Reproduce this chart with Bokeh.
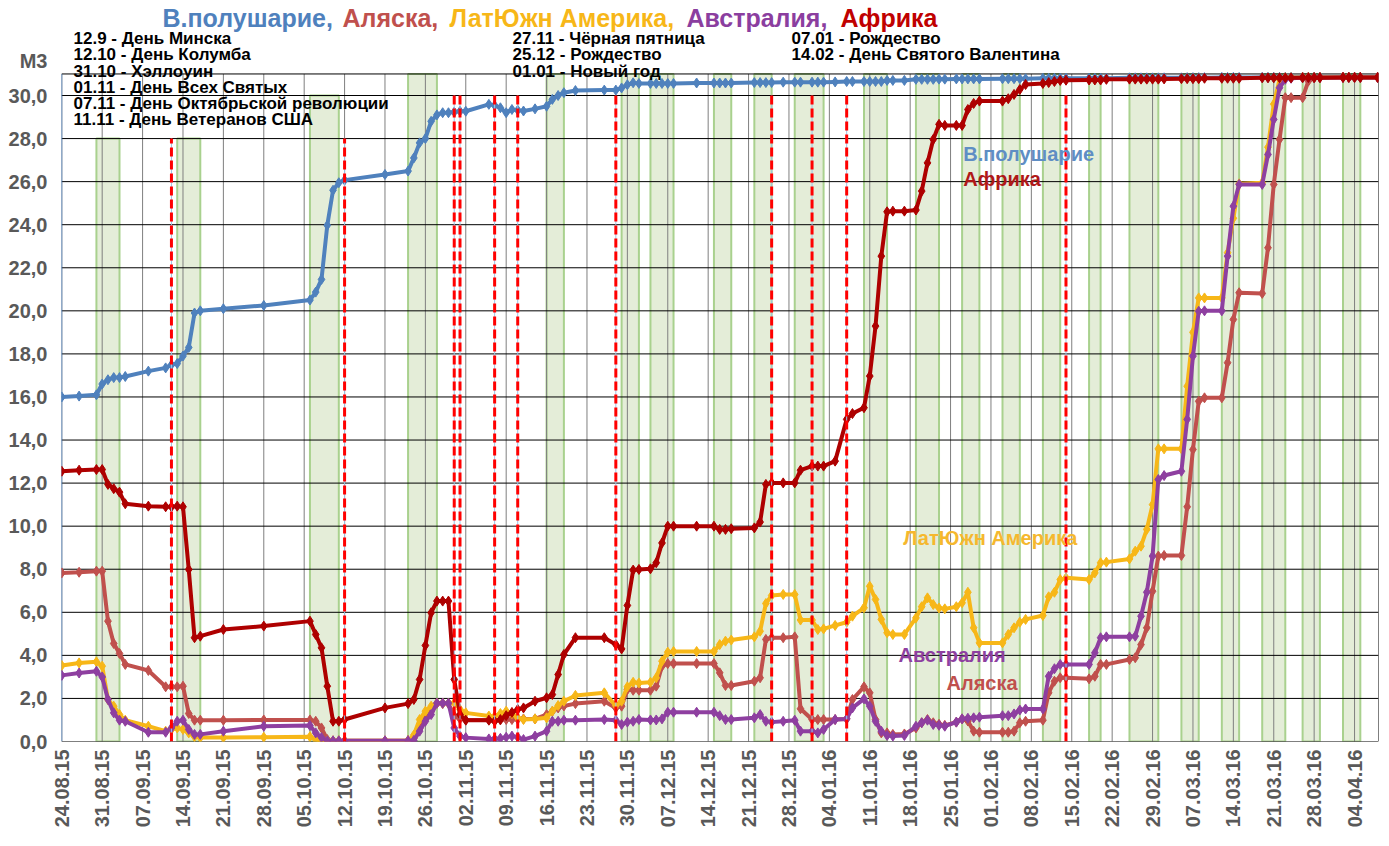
import pandas as pd
from bokeh.plotting import figure
from bokeh.models import FixedTicker, DatetimeTickFormatter, Label, Range1d, ColumnDataSource
from bokeh.embed import file_html
from bokeh.resources import INLINE

# ---------------- data ----------------
START = "24.08.15"
END = "08.04.16"

# observation day = days since START
obs_day = [0, 3, 6, 7, 8, 9, 10, 11, 15, 18,
           19, 20, 21, 22, 23, 24, 28, 35, 43, 44,
           45, 46, 47, 48, 49, 56, 60, 61, 62, 63,
           64, 65, 66, 67, 68, 69, 70, 74, 75, 76,
           77, 78, 79, 80, 82, 84, 85, 86, 87, 89,
           94, 96, 97, 98, 99, 100, 102, 103, 104, 105,
           106, 110, 113, 114, 115, 116, 120, 121, 122, 123,
           125, 127, 128, 130, 131, 132, 134, 136, 137, 139,
           140, 141, 142, 143, 144, 146, 148, 149, 150, 151,
           152, 153, 155, 156, 157, 158, 159, 163, 164, 165,
           166, 167, 170, 171, 172, 173, 174, 178, 179, 180,
           181, 185, 186, 187, 188, 189, 190, 191, 194, 195,
           196, 197, 198, 201, 202, 203, 204, 208, 209, 210,
           211, 212, 213, 215, 216, 217, 218, 222, 223, 224,
           225, 228]

hemisphere = [16.0, 16.04, 16.1, 16.6, 16.8, 16.9, 16.9, 16.95, 17.2, 17.35,
              17.5, 17.55, 17.9, 18.3, 19.9, 20.0, 20.1, 20.25, 20.5, 20.87,
              21.46, 23.97, 25.6, 25.95, 26.07, 26.33, 26.49, 27.1, 27.8, 28.0,
              28.8, 29.1, 29.2, 29.2, 29.23, 29.27, 29.27, 29.59, 29.54, 29.43,
              29.2, 29.35, 29.32, 29.28, 29.38, 29.5, 29.82, 30.0, 30.13, 30.23,
              30.25, 30.25, 30.35, 30.5, 30.59, 30.56, 30.56, 30.56, 30.56, 30.56,
              30.56, 30.58, 30.58, 30.58, 30.58, 30.58, 30.6, 30.6, 30.6, 30.6,
              30.62, 30.62, 30.62, 30.62, 30.62, 30.62, 30.63, 30.65, 30.65, 30.65,
              30.65, 30.65, 30.65, 30.7, 30.7, 30.7, 30.75, 30.75, 30.75, 30.75,
              30.76, 30.76, 30.77, 30.77, 30.77, 30.77, 30.77, 30.78, 30.78, 30.78,
              30.78, 30.78, 30.8, 30.8, 30.8, 30.8, 30.8, 30.8, 30.8, 30.8,
              30.8, 30.82, 30.82, 30.82, 30.82, 30.82, 30.82, 30.82, 30.82, 30.83,
              30.83, 30.83, 30.83, 30.84, 30.84, 30.84, 30.84, 30.84, 30.84, 30.84,
              30.84, 30.84, 30.84, 30.85, 30.85, 30.85, 30.85, 30.85, 30.85, 30.85,
              30.85, 30.85]

alaska = [7.83, 7.86, 7.91, 7.91, 5.59, 4.55, 4.09, 3.58, 3.3, 2.54,
          2.54, 2.54, 2.57, 1.3, 0.99, 0.99, 0.99, 1.0, 1.0, 0.94,
          0.63, 0.09, 0.03, 0.03, 0.03, 0.03, 0.05, 0.15, 0.6, 1.05,
          1.4, 1.78, 1.76, 1.76, 1.2, 1.05, 1.0, 1.0, 1.0, 1.0,
          1.02, 1.02, 1.03, 1.05, 1.05, 1.25, 1.4, 1.56, 1.65, 1.76,
          1.87, 1.56, 1.64, 2.41, 2.38, 2.38, 2.38, 2.57, 3.5, 3.62,
          3.62, 3.62, 3.62, 3.19, 2.6, 2.6, 2.8, 2.96, 4.74, 4.82,
          4.82, 4.86, 1.52, 1.02, 1.02, 1.02, 1.02, 1.05, 1.95, 2.54,
          2.26, 1.02, 0.4, 0.4, 0.33, 0.35, 0.63, 0.87, 1.02, 0.87,
          0.8, 0.75, 0.9, 1.05, 0.95, 0.48, 0.43, 0.43, 0.43, 0.48,
          0.87, 0.94, 0.99, 2.26, 2.8, 2.96, 2.96, 2.91, 3.03, 3.58,
          3.58, 3.81, 3.89, 4.5, 5.28, 6.98, 8.61, 8.64, 8.64, 10.9,
          13.56, 15.8, 15.96, 15.96, 17.59, 19.6, 20.84, 20.81, 22.93, 25.87,
          27.96, 29.9, 29.9, 29.9, 30.67, 30.82, 30.83, 30.84, 30.84, 30.84,
          30.84, 30.84]

latam = [3.53, 3.65, 3.7, 3.5, 1.95, 1.64, 1.25, 0.99, 0.71, 0.48,
         0.56, 0.63, 0.56, 0.4, 0.22, 0.18, 0.18, 0.2, 0.22, 0.09,
         0.03, 0.03, 0.03, 0.03, 0.03, 0.03, 0.03, 0.3, 1.02, 1.41,
         1.64, 1.78, 1.78, 1.78, 1.8, 1.49, 1.33, 1.18, 1.17, 1.3,
         1.41, 1.3, 1.1, 1.02, 1.05, 1.1, 1.41, 1.67, 1.87, 2.14,
         2.26, 1.67, 1.87, 2.54, 2.75, 2.72, 2.75, 2.96, 3.73, 4.15,
         4.18, 4.18, 4.18, 4.5, 4.66, 4.71, 4.86, 5.12, 6.41, 6.78,
         6.83, 6.83, 5.64, 5.64, 5.2, 5.23, 5.39, 5.54, 5.82, 6.21,
         7.21, 6.6, 5.67, 5.05, 4.97, 4.97, 5.74, 6.26, 6.67, 6.36,
         6.2, 6.16, 6.26, 6.44, 6.93, 5.28, 4.58, 4.58, 4.97, 5.28,
         5.54, 5.67, 5.85, 6.72, 6.93, 7.52, 7.6, 7.52, 7.83, 8.3,
         8.33, 8.48, 8.84, 9.07, 9.85, 11.0, 13.59, 13.59, 13.59, 16.5,
         19.0, 20.6, 20.6, 20.6, 22.7, 24.3, 25.9, 25.95, 27.6, 29.6,
         30.75, 30.82, 30.82, 30.84, 30.84, 30.84, 30.84, 30.85, 30.85, 30.85,
         30.85, 30.85]

australia = [3.07, 3.18, 3.26, 3.0, 1.95, 1.33, 0.99, 0.94, 0.43, 0.43,
             0.63, 0.94, 0.99, 0.56, 0.33, 0.33, 0.48, 0.71, 0.74, 0.4,
             0.18, 0.03, 0.03, 0.03, 0.03, 0.03, 0.03, 0.05, 0.48, 0.94,
             1.25, 1.78, 1.78, 1.78, 0.63, 0.25, 0.18, 0.12, 0.12, 0.15,
             0.2, 0.25, 0.2, 0.09, 0.25, 0.48, 0.94, 0.94, 0.99, 0.99,
             1.02, 0.99, 0.79, 0.9, 0.94, 1.02, 1.0, 1.0, 1.05, 1.36,
             1.36, 1.36, 1.36, 1.2, 1.02, 1.02, 1.1, 1.25, 0.94, 0.9,
             0.94, 0.99, 0.48, 0.48, 0.4, 0.56, 1.02, 1.05, 1.56, 1.98,
             1.64, 0.94, 0.48, 0.28, 0.25, 0.28, 0.71, 0.87, 0.99, 0.79,
             0.75, 0.71, 0.9, 1.05, 1.08, 1.1, 1.13, 1.2, 1.2, 1.28,
             1.46, 1.51, 1.51, 3.03, 3.38, 3.58, 3.58, 3.58, 4.12, 4.82,
             4.86, 4.86, 4.89, 5.82, 6.93, 8.61, 12.17, 12.35, 12.55, 14.96,
             17.9, 19.98, 20.0, 20.0, 22.54, 24.86, 25.87, 25.87, 27.26, 28.89,
             30.36, 30.75, 30.8, 30.82, 30.82, 30.83, 30.83, 30.84, 30.84, 30.84,
             30.84, 30.84]

africa = [12.55, 12.6, 12.63, 12.63, 11.94, 11.74, 11.58, 11.04, 10.93, 10.9,
          10.9, 10.93, 10.9, 7.99, 4.82, 4.89, 5.2, 5.36, 5.59, 4.97,
          4.35, 2.57, 0.94, 0.94, 1.02, 1.56, 1.76, 1.95, 2.88, 4.46,
          5.98, 6.52, 6.52, 6.52, 2.88, 1.25, 0.99, 0.99, 0.94, 1.02,
          1.2, 1.35, 1.49, 1.56, 1.87, 2.03, 2.18, 3.11, 4.04, 4.82,
          4.82, 4.5, 4.3, 6.32, 7.96, 7.99, 8.02, 8.3, 9.22, 10.0,
          10.0, 10.0, 10.0, 9.85, 9.85, 9.88, 9.92, 10.19, 11.94, 12.01,
          12.01, 12.01, 12.6, 12.79, 12.79, 12.79, 13.02, 14.96, 15.23, 15.5,
          16.97, 19.29, 22.54, 24.6, 24.63, 24.63, 24.68, 25.56, 26.87, 27.96,
          28.66, 28.61, 28.61, 28.61, 29.35, 29.63, 29.74, 29.74, 29.85, 30.05,
          30.28, 30.51, 30.56, 30.6, 30.65, 30.7, 30.71, 30.72, 30.72, 30.72,
          30.75, 30.76, 30.76, 30.76, 30.76, 30.76, 30.76, 30.77, 30.78, 30.78,
          30.78, 30.78, 30.8, 30.8, 30.8, 30.8, 30.8, 30.82, 30.82, 30.82,
          30.82, 30.82, 30.82, 30.83, 30.83, 30.83, 30.83, 30.84, 30.84, 30.84,
          30.84, 30.84]

series_names = ["В.полушарие", "Аляска", "ЛатЮжн Америка", "Австралия", "Африка"]

week_labels = ["24.08.15", "31.08.15", "07.09.15", "14.09.15", "21.09.15", "28.09.15",
               "05.10.15", "12.10.15", "19.10.15", "26.10.15", "02.11.15", "09.11.15",
               "16.11.15", "23.11.15", "30.11.15", "07.12.15", "14.12.15", "21.12.15",
               "28.12.15", "04.01.16", "11.01.16", "18.01.16", "25.01.16", "01.02.16",
               "08.02.16", "15.02.16", "22.02.16", "29.02.16", "07.03.16", "14.03.16",
               "21.03.16", "28.03.16", "04.04.16"]
y_ticks = [0, 2, 4, 6, 8, 10, 12, 14, 16, 18, 20, 22, 24, 26, 28, 30]
Y_MAX = 31
UNIT_LABEL = "М3"

# shaded periods (green)
band_start = ["30.08.15", "13.09.15", "06.10.15", "23.10.15", "16.11.15", "29.11.15",
              "04.12.15", "15.12.15", "22.12.15", "29.12.15", "10.01.16", "19.01.16",
              "27.01.16", "03.02.16", "10.02.16", "18.02.16", "25.02.16", "05.03.16",
              "12.03.16", "19.03.16", "26.03.16", "02.04.16"]
band_end = ["03.09.15", "17.09.15", "11.10.15", "28.10.15", "19.11.15", "02.12.15",
            "08.12.15", "18.12.15", "25.12.15", "03.01.16", "14.01.16", "23.01.16",
            "30.01.16", "06.02.16", "13.02.16", "20.02.16", "01.03.16", "08.03.16",
            "15.03.16", "23.03.16", "29.03.16", "05.04.16"]
band_top = [28, 28, 30, 31, 31, 31, 31, 31, 31, 31, 31,
            31, 31, 31, 31, 31, 31, 31, 31, 31, 31, 31]

# holidays (red dashed lines)
holiday_dates = ["12.09.15", "12.10.15", "31.10.15", "01.11.15", "07.11.15", "11.11.15",
                 "28.11.15", "25.12.15", "01.01.16", "07.01.16", "14.02.16"]
holiday_top = [28, 28, 30, 30, 30, 30, 30, 30, 30, 30, 30]

notes_col1 = ["12.9 - День Минска", "12.10 - День Колумба", "31.10 - Хэллоуин",
              "01.11 - День Всех Святых", "07.11 - День Октябрьской революции",
              "11.11 - День Ветеранов США"]
notes_col2 = ["27.11 - Чёрная пятница", "25.12 - Рождество", "01.01 - Новый год"]
notes_col3 = ["07.01 - Рождество", "14.02 - День Святого Валентина"]

title_parts = ["В.полушарие,", "Аляска,", "ЛатЮжн Америка,", "Австралия,", "Африка"]

# ---------------- helpers ----------------
FMT = "%d.%m.%y"
t0 = pd.to_datetime(START, format=FMT)
DAY = 86400000.0
def d(s):
    return pd.to_datetime(s, format=FMT)
def ms(ts):
    return ts.value / 1e6

n = len(obs_day)
for arr in (hemisphere, alaska, latam, australia, africa):
    assert len(arr) == n, len(arr)

dates = t0 + pd.to_timedelta(obs_day, unit="D")

FONT = "Liberation Sans"
C_BLUE = "#4F81BD"
C_ALASKA = "#C0504D"
C_LATAM = "#F7B718"
C_AUS = "#8E3FA0"
C_AFR = "#AE0000"

# ---------------- figure ----------------
# layout: frame spans from the canvas top to the zero line; the value area is 0..31
PX_PER_UNIT = 646 / 30.0
FRAME_H = 741
x_lo = ms(t0) - 0.05 * DAY
x_hi = ms(d(END)) + 0.15 * DAY
p = figure(frame_width=1317, frame_height=FRAME_H, x_axis_type="datetime",
           output_backend="svg", toolbar_location=None,
           min_border_left=61, min_border_right=2, min_border_top=0, min_border_bottom=96,
           x_range=Range1d(x_lo, x_hi),
           y_range=Range1d(0, FRAME_H / PX_PER_UNIT))
p.background_fill_color = "white"
p.border_fill_color = "white"
p.outline_line_color = None
p.xgrid.visible = False
p.ygrid.visible = False

# axes
week_ms = [ms(d(s)) for s in week_labels]
p.xaxis.ticker = FixedTicker(ticks=week_ms)
fmt = "%d.%m.%y"
p.xaxis.formatter = DatetimeTickFormatter(days=fmt, months=fmt, years=fmt, hours=fmt,
                                          hourmin=fmt, minutes=fmt, minsec=fmt, seconds=fmt,
                                          milliseconds=fmt, microseconds=fmt)
p.xaxis.major_label_orientation = 1.5707963
UNIT_POS = 31.6
p.yaxis.ticker = FixedTicker(ticks=y_ticks + [UNIT_POS])
overrides = {v: f"{v:.1f}".replace(".", ",") for v in y_ticks}
overrides[UNIT_POS] = UNIT_LABEL
p.yaxis.major_label_overrides = overrides
for ax in (p.xaxis[0], p.yaxis[0]):
    ax.major_label_text_font = FONT
    ax.major_label_text_font_style = "bold"
    ax.major_label_text_font_size = "20px"
    ax.major_label_text_color = "#595959"
    ax.major_tick_line_color = None
    ax.minor_tick_line_color = None
    ax.major_tick_out = 0
    ax.major_tick_in = 0
    ax.axis_line_color = None
p.xaxis.major_label_standoff = 8
p.yaxis.major_label_standoff = 14

# green bands
band_src = ColumnDataSource(dict(left=[d(s) for s in band_start],
                                 right=[d(s) for s in band_end],
                                 top=band_top, bottom=[0] * len(band_top)))
p.quad(left="left", right="right", top="top", bottom="bottom", source=band_src,
       fill_color="#E4EDD8", line_color="#A9D18E", line_width=2)

# grid (drawn over the bands, limited to the value area 0..31)
p.segment(x0=week_ms, x1=week_ms, y0=[0] * len(week_ms), y1=[Y_MAX] * len(week_ms),
          line_color="#7F7F7F", line_width=1)
p.segment(x0=[x_lo] * len(y_ticks), x1=[x_hi] * len(y_ticks), y0=y_ticks, y1=y_ticks,
          line_color="black", line_width=1)
# frame of the value area
p.segment(x0=[x_lo, x_hi], x1=[x_hi, x_hi], y0=[Y_MAX, 0], y1=[Y_MAX, Y_MAX],
          line_color="black", line_width=1)
p.segment(x0=[x_lo], x1=[x_lo], y0=[0], y1=[Y_MAX], line_color="#4F81BD", line_width=1.5)

# series
src = ColumnDataSource(dict(x=dates, h=hemisphere, al=alaska, la=latam,
                            au=australia, af=africa))
for col, color in (("h", C_BLUE), ("al", C_ALASKA), ("la", C_LATAM),
                   ("au", C_AUS), ("af", C_AFR)):
    p.line("x", col, source=src, line_color=color, line_width=4, line_join="round")
    p.scatter("x", col, source=src, marker="diamond", size=10,
              fill_color=color, line_color=color)

# holiday lines
hol_src = ColumnDataSource(dict(x=[d(s) for s in holiday_dates], top=holiday_top,
                                bottom=[0] * len(holiday_top)))
p.segment(x0="x", y0="bottom", x1="x", y1="top", source=hol_src,
          line_color="#9DC3E6", line_width=1)
p.segment(x0="x", y0="bottom", x1="x", y1="top", source=hol_src,
          line_color="#FF0000", line_width=3, line_dash="9 4")

# in-plot series labels (data units)
def day_ms(days):
    return ms(t0 + pd.Timedelta(days=days))
for txt, x, y, c in ((series_names[0], 156.2, 27.3, "#5F8EC4"),
                     (series_names[4], 156.2, 26.1, "#B01818"),
                     (series_names[2], 145.8, 9.45, "#F5B82E"),
                     (series_names[3], 145.0, 4.0, C_AUS),
                     (series_names[1], 153.3, 2.7, C_ALASKA)):
    p.add_layout(Label(x=day_ms(x), y=y, text=txt, text_color=c, text_font=FONT,
                       text_font_style="bold", text_font_size="20px",
                       text_baseline="middle", text_align="left"))

# screen-positioned texts (offsets from the frame's bottom-left corner)
FL, FB = 62, 742
def screen_label(text, px, py, color="black", size="17px"):
    p.add_layout(Label(x=px - FL, y=FB - py, x_units="screen", y_units="screen",
                       text=text, text_color=color, text_font=FONT,
                       text_font_style="bold", text_font_size=size,
                       text_baseline="middle", text_align="left"))

title_colors = [C_BLUE, C_ALASKA, "#F7B718", "#8B3E9F", "#C00000"]
title_x = [163, 343, 450, 687, 841]
for t, c, x in zip(title_parts, title_colors, title_x):
    screen_label(t, x, 18, color=c, size="25px")

rows = [39, 55, 72, 88, 104, 120]
for t, y in zip(notes_col1, rows):
    screen_label(t, 74, y)
for t, y in zip(notes_col2, rows):
    screen_label(t, 513, y)
for t, y in zip(notes_col3, rows):
    screen_label(t, 792, y)

open("out.html", "w").write(file_html(p, INLINE))
